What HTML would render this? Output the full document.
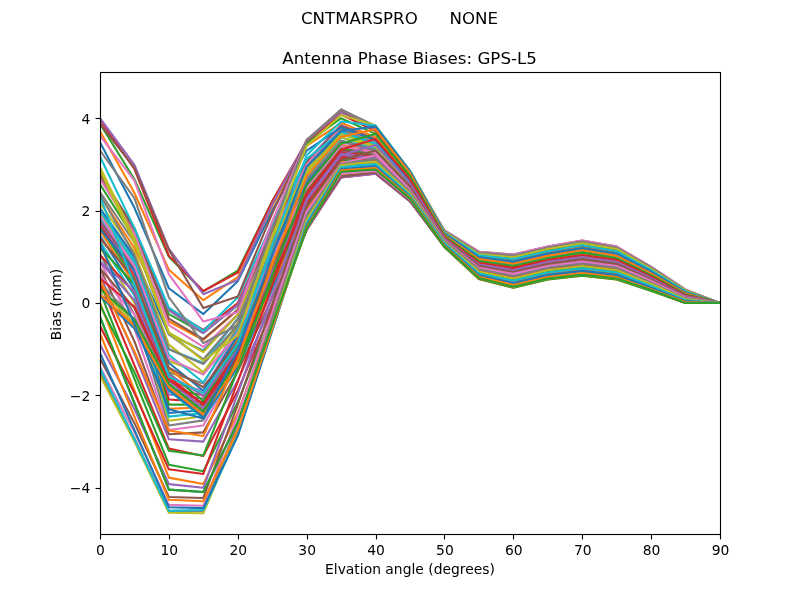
<!DOCTYPE html>
<html lang="en"><head><meta charset="utf-8"><title>Antenna Phase Biases: GPS-L5</title>
<style>html,body{margin:0;padding:0;background:#fff}svg{display:block}text{font-family:"DejaVu Sans","Liberation Sans",sans-serif;fill:#000;white-space:pre}</style></head><body>
<svg width="800" height="600" viewBox="0 0 800 600">
<rect width="800" height="600" fill="#fff"/>
<defs><clipPath id="ax"><rect x="100" y="72" width="620" height="462"/></clipPath></defs>
<g clip-path="url(#ax)" fill="none" stroke-width="2.083" stroke-linejoin="round" stroke-linecap="square">
<polyline stroke="#1f77b4" points="100.00,316.86 134.44,403.25 168.89,489.65 203.33,491.96 237.78,422.20 272.22,325.18 306.67,228.62 341.11,171.79 375.56,169.48 410.00,198.59 444.44,246.64 478.89,278.05 513.33,286.83 547.78,278.51 582.22,274.82 616.67,278.51 651.11,290.06 685.56,303.00 720.00,303.00"/>
<polyline stroke="#ff7f0e" points="100.00,303.00 134.44,390.32 168.89,477.64 203.33,484.10 237.78,412.96 272.22,320.56 306.67,229.08 341.11,174.10 375.56,171.33 410.00,199.97 444.44,247.10 478.89,278.98 513.33,287.75 547.78,279.44 582.22,275.74 616.67,279.44 651.11,290.53 685.56,303.00 720.00,303.00"/>
<polyline stroke="#2ca02c" points="100.00,291.45 134.44,378.77 168.89,464.70 203.33,471.17 237.78,402.33 272.22,315.47 306.67,230.00 341.11,175.95 375.56,172.72 410.00,200.90 444.44,247.10 478.89,278.98 513.33,287.75 547.78,279.44 582.22,275.74 616.67,279.44 651.11,290.99 685.56,303.00 720.00,303.00"/>
<polyline stroke="#d62728" points="100.00,282.67 134.44,365.37 168.89,448.53 203.33,455.92 237.78,390.78 272.22,309.47 306.67,230.00 341.11,177.34 375.56,173.64 410.00,201.36 444.44,246.64 478.89,278.51 513.33,286.83 547.78,278.51 582.22,274.82 616.67,278.51 651.11,290.06 685.56,303.00 720.00,303.00"/>
<polyline stroke="#9467bd" points="100.00,275.28 134.44,353.82 168.89,439.29 203.33,441.60 237.78,380.62 272.22,303.92 306.67,229.08 341.11,177.34 375.56,173.64 410.00,201.36 444.44,246.17 478.89,277.13 513.33,285.44 547.78,277.13 582.22,273.43 616.67,277.13 651.11,289.14 685.56,302.54 720.00,303.00"/>
<polyline stroke="#8c564b" points="100.00,268.35 134.44,341.35 168.89,434.21 203.33,432.36 237.78,371.38 272.22,297.92 306.67,227.23 341.11,176.41 375.56,172.72 410.00,200.90 444.44,245.25 478.89,275.74 513.33,283.60 547.78,275.28 582.22,271.58 616.67,275.28 651.11,287.75 685.56,301.61 720.00,303.00"/>
<polyline stroke="#e377c2" points="100.00,261.42 134.44,328.41 168.89,430.05 203.33,425.43 237.78,363.98 272.22,292.84 306.67,224.92 341.11,173.64 375.56,170.87 410.00,199.51 444.44,244.33 478.89,273.89 513.33,281.29 547.78,273.43 582.22,269.27 616.67,273.43 651.11,286.37 685.56,300.69 720.00,303.00"/>
<polyline stroke="#7f7f7f" points="100.00,254.49 134.44,314.55 168.89,425.43 203.33,420.35 237.78,358.44 272.22,288.68 306.67,222.15 341.11,171.33 375.56,169.02 410.00,198.59 444.44,243.40 478.89,272.05 513.33,279.44 547.78,271.12 582.22,266.50 616.67,271.12 651.11,284.52 685.56,299.77 720.00,303.00"/>
<polyline stroke="#bcbd22" points="100.00,247.56 134.44,303.00 168.89,420.81 203.33,416.19 237.78,353.82 272.22,284.52 306.67,218.92 341.11,169.02 375.56,167.63 410.00,197.66 444.44,242.02 478.89,270.20 513.33,277.13 547.78,268.81 582.22,264.19 616.67,268.81 651.11,283.13 685.56,298.84 720.00,303.00"/>
<polyline stroke="#17becf" points="100.00,241.55 134.44,295.61 168.89,416.65 203.33,412.96 237.78,350.59 272.22,280.82 306.67,215.68 341.11,166.71 375.56,165.79 410.00,196.28 444.44,241.09 478.89,268.81 513.33,274.82 547.78,266.96 582.22,262.34 616.67,266.96 651.11,281.75 685.56,297.92 720.00,303.00"/>
<polyline stroke="#1f77b4" points="100.00,235.55 134.44,289.60 168.89,412.96 203.33,410.18 237.78,347.81 272.22,277.59 306.67,212.45 341.11,164.40 375.56,163.94 410.00,195.35 444.44,240.17 478.89,267.43 513.33,272.97 547.78,265.12 582.22,260.50 616.67,265.12 651.11,280.36 685.56,297.46 720.00,303.00"/>
<polyline stroke="#ff7f0e" points="100.00,230.47 134.44,284.52 168.89,408.80 203.33,407.41 237.78,345.04 272.22,274.82 306.67,209.21 341.11,161.63 375.56,162.09 410.00,193.97 444.44,239.24 478.89,265.58 513.33,271.12 547.78,263.27 582.22,258.19 616.67,263.27 651.11,278.98 685.56,296.53 720.00,303.00"/>
<polyline stroke="#2ca02c" points="100.00,226.77 134.44,279.90 168.89,404.64 203.33,404.64 237.78,342.27 272.22,271.58 306.67,205.52 341.11,158.86 375.56,159.78 410.00,192.58 444.44,238.78 478.89,264.19 513.33,269.27 547.78,261.42 582.22,256.34 616.67,261.42 651.11,277.59 685.56,295.61 720.00,303.00"/>
<polyline stroke="#d62728" points="100.00,224.00 134.44,275.74 168.89,399.56 203.33,401.87 237.78,339.50 272.22,267.43 306.67,200.90 341.11,155.62 375.56,157.47 410.00,191.20 444.44,237.40 478.89,262.34 513.33,267.43 547.78,259.57 582.22,254.03 616.67,259.57 651.11,276.20 685.56,295.15 720.00,303.00"/>
<polyline stroke="#9467bd" points="100.00,221.69 134.44,272.05 168.89,394.48 203.33,398.63 237.78,336.73 272.22,263.73 306.67,196.28 341.11,151.93 375.56,155.16 410.00,189.81 444.44,236.47 478.89,260.50 513.33,265.12 547.78,257.26 582.22,251.72 616.67,257.26 651.11,274.36 685.56,294.22 720.00,303.00"/>
<polyline stroke="#8c564b" points="100.00,219.84 134.44,268.81 168.89,388.47 203.33,395.40 237.78,333.95 272.22,259.57 306.67,191.20 341.11,148.23 375.56,152.85 410.00,187.96 444.44,235.55 478.89,258.65 513.33,262.81 547.78,254.95 582.22,249.41 616.67,254.95 651.11,272.97 685.56,293.30 720.00,303.00"/>
<polyline stroke="#e377c2" points="100.00,217.53 134.44,266.04 168.89,381.54 203.33,390.78 237.78,330.72 272.22,255.41 306.67,186.58 341.11,144.53 375.56,150.54 410.00,186.58 444.44,234.16 478.89,257.26 513.33,260.50 547.78,252.64 582.22,247.10 616.67,252.64 651.11,271.12 685.56,292.37 720.00,303.00"/>
<polyline stroke="#7f7f7f" points="100.00,215.22 134.44,263.73 168.89,372.30 203.33,383.39 237.78,327.02 272.22,250.79 306.67,181.49 341.11,140.84 375.56,148.69 410.00,185.65 444.44,233.24 478.89,255.41 513.33,258.65 547.78,250.79 582.22,244.79 616.67,250.79 651.11,269.74 685.56,291.45 720.00,303.00"/>
<polyline stroke="#bcbd22" points="100.00,212.91 134.44,261.42 168.89,361.21 203.33,373.69 237.78,322.87 272.22,246.64 306.67,177.34 341.11,137.60 375.56,146.84 410.00,184.27 444.44,232.78 478.89,254.03 513.33,257.26 547.78,249.41 582.22,243.40 616.67,249.41 651.11,268.81 685.56,290.99 720.00,303.00"/>
<polyline stroke="#17becf" points="100.00,211.06 134.44,259.57 168.89,349.20 203.33,363.06 237.78,318.71 272.22,242.02 306.67,173.18 341.11,134.37 375.56,145.00 410.00,183.34 444.44,232.31 478.89,253.57 513.33,256.34 547.78,248.48 582.22,242.48 616.67,248.48 651.11,268.35 685.56,290.53 720.00,303.00"/>
<polyline stroke="#1f77b4" points="100.00,208.29 134.44,256.80 168.89,334.42 203.33,350.59 237.78,314.55 272.22,237.86 306.67,169.48 341.11,131.60 375.56,143.61 410.00,182.42 444.44,232.31 478.89,253.57 513.33,256.34 547.78,248.48 582.22,242.48 616.67,248.48 651.11,267.89 685.56,290.53 720.00,303.00"/>
<polyline stroke="#ff7f0e" points="100.00,195.82 134.44,248.02 168.89,321.48 203.33,339.96 237.78,309.93 272.22,233.70 306.67,166.25 341.11,129.29 375.56,142.22 410.00,181.49 444.44,232.78 478.89,254.03 513.33,257.26 547.78,249.41 582.22,243.40 616.67,249.41 651.11,268.81 685.56,290.99 720.00,303.00"/>
<polyline stroke="#2ca02c" points="100.00,184.27 134.44,238.32 168.89,314.09 203.33,333.03 237.78,305.31 272.22,230.00 306.67,163.94 341.11,127.44 375.56,140.38 410.00,180.57 444.44,233.24 478.89,255.41 513.33,258.65 547.78,250.79 582.22,244.79 616.67,250.79 651.11,269.74 685.56,291.45 720.00,303.00"/>
<polyline stroke="#d62728" points="100.00,178.26 134.44,232.31 168.89,309.47 203.33,329.80 237.78,303.00 272.22,227.69 306.67,161.63 341.11,125.59 375.56,139.45 410.00,179.65 444.44,234.16 478.89,256.80 513.33,260.50 547.78,252.64 582.22,246.64 616.67,252.64 651.11,271.12 685.56,291.91 720.00,303.00"/>
<polyline stroke="#9467bd" points="100.00,175.03 134.44,229.08 168.89,310.39 203.33,333.03 237.78,304.85 272.22,228.62 306.67,160.70 341.11,125.13 375.56,138.99 410.00,179.18 444.44,235.09 478.89,258.65 513.33,262.34 547.78,254.49 582.22,248.95 616.67,254.49 651.11,272.51 685.56,292.84 720.00,303.00"/>
<polyline stroke="#8c564b" points="100.00,174.56 134.44,228.16 168.89,318.71 203.33,339.04 237.78,309.47 272.22,231.39 306.67,162.09 341.11,126.05 375.56,139.91 410.00,179.65 444.44,236.01 478.89,260.50 513.33,264.65 547.78,256.80 582.22,251.26 616.67,256.80 651.11,274.36 685.56,293.76 720.00,303.00"/>
<polyline stroke="#e377c2" points="100.00,178.72 134.44,233.70 168.89,325.18 203.33,346.89 237.78,314.55 272.22,235.55 306.67,164.40 341.11,127.44 375.56,141.30 410.00,181.03 444.44,236.93 478.89,261.88 513.33,266.96 547.78,259.11 582.22,253.57 616.67,259.11 651.11,275.74 685.56,294.68 720.00,303.00"/>
<polyline stroke="#7f7f7f" points="100.00,192.12 134.44,242.48 168.89,334.42 203.33,359.36 237.78,319.17 272.22,239.71 306.67,167.63 341.11,129.75 375.56,143.61 410.00,182.42 444.44,237.86 478.89,263.73 513.33,268.81 547.78,260.96 582.22,255.88 616.67,260.96 651.11,277.13 685.56,295.61 720.00,303.00"/>
<polyline stroke="#bcbd22" points="100.00,203.21 134.44,252.18 168.89,344.58 203.33,372.30 237.78,324.71 272.22,244.79 306.67,172.72 341.11,133.45 375.56,145.92 410.00,183.80 444.44,238.78 478.89,265.12 513.33,270.66 547.78,262.81 582.22,257.72 616.67,262.81 651.11,278.51 685.56,296.53 720.00,303.00"/>
<polyline stroke="#17becf" points="100.00,217.53 134.44,261.88 168.89,354.74 203.33,382.46 237.78,330.26 272.22,250.79 306.67,177.80 341.11,137.60 375.56,148.23 410.00,185.19 444.44,239.71 478.89,266.50 513.33,272.51 547.78,264.65 582.22,259.57 616.67,264.65 651.11,279.90 685.56,296.99 720.00,303.00"/>
<polyline stroke="#1f77b4" points="100.00,229.08 134.44,270.66 168.89,363.06 203.33,390.78 237.78,335.34 272.22,255.88 306.67,182.88 341.11,141.30 375.56,150.54 410.00,186.58 444.44,240.63 478.89,267.89 513.33,274.36 547.78,266.04 582.22,261.42 616.67,266.04 651.11,281.29 685.56,297.92 720.00,303.00"/>
<polyline stroke="#ff7f0e" points="100.00,238.78 134.44,277.59 168.89,368.60 203.33,396.32 237.78,340.42 272.22,260.96 306.67,187.50 341.11,145.00 375.56,152.85 410.00,188.42 444.44,241.55 478.89,269.74 513.33,276.20 547.78,268.35 582.22,263.73 616.67,268.35 651.11,282.67 685.56,298.38 720.00,303.00"/>
<polyline stroke="#2ca02c" points="100.00,247.56 134.44,284.52 168.89,373.22 203.33,400.94 237.78,345.50 272.22,266.04 306.67,192.58 341.11,148.69 375.56,155.16 410.00,189.81 444.44,242.48 478.89,271.58 513.33,278.51 547.78,270.20 582.22,266.04 616.67,270.20 651.11,284.06 685.56,299.30 720.00,303.00"/>
<polyline stroke="#d62728" points="100.00,254.95 134.44,292.37 168.89,376.92 203.33,404.64 237.78,349.66 272.22,271.12 306.67,197.20 341.11,151.93 375.56,157.01 410.00,190.73 444.44,243.40 478.89,272.97 513.33,280.82 547.78,272.51 582.22,268.35 616.67,272.51 651.11,285.91 685.56,300.23 720.00,303.00"/>
<polyline stroke="#9467bd" points="100.00,261.88 134.44,300.23 168.89,380.62 203.33,408.34 237.78,353.82 272.22,275.28 306.67,201.36 341.11,155.16 375.56,158.86 410.00,192.12 444.44,244.33 478.89,274.82 513.33,282.67 547.78,274.36 582.22,270.66 616.67,274.36 651.11,287.29 685.56,301.15 720.00,303.00"/>
<polyline stroke="#8c564b" points="100.00,268.35 134.44,308.08 168.89,383.85 203.33,411.57 237.78,357.52 272.22,278.98 306.67,204.59 341.11,157.93 375.56,160.24 410.00,193.04 444.44,245.25 478.89,276.20 513.33,284.52 547.78,276.20 582.22,272.51 616.67,276.20 651.11,288.68 685.56,302.08 720.00,303.00"/>
<polyline stroke="#e377c2" points="100.00,275.28 134.44,314.55 168.89,386.16 203.33,413.88 237.78,361.21 272.22,282.21 306.67,207.37 341.11,160.24 375.56,161.63 410.00,193.51 444.44,245.71 478.89,277.59 513.33,285.91 547.78,277.59 582.22,273.89 616.67,277.59 651.11,289.60 685.56,302.54 720.00,303.00"/>
<polyline stroke="#7f7f7f" points="100.00,282.67 134.44,319.63 168.89,388.47 203.33,416.19 237.78,364.45 272.22,284.98 306.67,209.68 341.11,162.09 375.56,163.01 410.00,194.43 444.44,246.17 478.89,278.05 513.33,286.83 547.78,278.51 582.22,274.82 616.67,278.51 651.11,290.06 685.56,302.54 720.00,303.00"/>
<polyline stroke="#bcbd22" points="100.00,289.14 134.44,323.79 168.89,389.86 203.33,417.58 237.78,366.76 272.22,287.29 306.67,211.99 341.11,163.48 375.56,163.94 410.00,195.35 444.44,246.17 478.89,278.05 513.33,286.83 547.78,278.51 582.22,274.82 616.67,278.51 651.11,290.06 685.56,302.54 720.00,303.00"/>
<polyline stroke="#17becf" points="100.00,293.76 134.44,327.02 168.89,390.78 203.33,418.50 237.78,367.68 272.22,288.68 306.67,212.91 341.11,164.40 375.56,164.40 410.00,195.35 444.44,245.71 478.89,277.13 513.33,285.91 547.78,277.59 582.22,273.89 616.67,277.59 651.11,289.60 685.56,302.54 720.00,303.00"/>
<polyline stroke="#1f77b4" points="100.00,296.07 134.44,328.41 168.89,389.86 203.33,417.11 237.78,366.76 272.22,287.29 306.67,211.99 341.11,163.48 375.56,163.94 410.00,195.35 444.44,244.79 478.89,276.20 513.33,284.52 547.78,276.20 582.22,272.05 616.67,276.20 651.11,288.22 685.56,301.61 720.00,303.00"/>
<polyline stroke="#ff7f0e" points="100.00,294.22 134.44,325.64 168.89,387.08 203.33,414.80 237.78,363.98 272.22,284.52 306.67,209.21 341.11,162.09 375.56,163.01 410.00,194.89 444.44,243.86 478.89,274.36 513.33,282.21 547.78,273.89 582.22,270.20 616.67,273.89 651.11,286.83 685.56,301.15 720.00,303.00"/>
<polyline stroke="#2ca02c" points="100.00,289.14 134.44,319.17 168.89,383.85 203.33,411.57 237.78,360.75 272.22,281.29 306.67,205.98 341.11,159.78 375.56,162.09 410.00,193.97 444.44,242.94 478.89,272.51 513.33,279.90 547.78,272.05 582.22,267.89 616.67,272.05 651.11,285.44 685.56,299.77 720.00,303.00"/>
<polyline stroke="#d62728" points="100.00,278.51 134.44,306.70 168.89,379.69 203.33,404.64 237.78,355.67 272.22,277.13 306.67,202.75 341.11,157.01 375.56,160.70 410.00,193.04 444.44,241.55 478.89,270.66 513.33,277.59 547.78,269.74 582.22,265.12 616.67,269.74 651.11,283.60 685.56,298.84 720.00,303.00"/>
<polyline stroke="#9467bd" points="100.00,261.42 134.44,291.45 168.89,374.61 203.33,395.86 237.78,349.20 272.22,271.12 306.67,198.59 341.11,153.77 375.56,158.39 410.00,191.66 444.44,240.63 478.89,268.81 513.33,275.28 547.78,267.43 582.22,262.81 616.67,267.43 651.11,281.75 685.56,297.92 720.00,303.00"/>
<polyline stroke="#8c564b" points="100.00,238.32 134.44,278.51 168.89,367.68 203.33,387.08 237.78,341.81 272.22,264.65 306.67,193.51 341.11,150.08 375.56,155.62 410.00,189.81 444.44,239.71 478.89,266.96 513.33,273.43 547.78,265.12 582.22,260.50 616.67,265.12 651.11,280.36 685.56,297.46 720.00,303.00"/>
<polyline stroke="#e377c2" points="100.00,215.22 134.44,266.04 168.89,358.44 203.33,374.61 237.78,333.03 272.22,257.26 306.67,187.50 341.11,145.92 375.56,152.85 410.00,187.96 444.44,238.78 478.89,265.58 513.33,271.58 547.78,263.27 582.22,258.65 616.67,263.27 651.11,278.98 685.56,296.53 720.00,303.00"/>
<polyline stroke="#7f7f7f" points="100.00,194.43 134.44,254.95 168.89,349.20 203.33,363.98 237.78,324.71 272.22,248.48 306.67,179.18 341.11,141.76 375.56,150.08 410.00,186.58 444.44,237.86 478.89,263.73 513.33,269.74 547.78,261.42 582.22,256.34 616.67,261.42 651.11,277.59 685.56,295.61 720.00,303.00"/>
<polyline stroke="#bcbd22" points="100.00,169.94 134.44,242.94 168.89,332.57 203.33,351.97 237.78,314.55 272.22,237.86 306.67,169.02 341.11,137.14 375.56,146.84 410.00,184.27 444.44,236.93 478.89,262.34 513.33,267.43 547.78,259.57 582.22,254.49 616.67,259.57 651.11,276.20 685.56,295.15 720.00,303.00"/>
<polyline stroke="#17becf" points="100.00,156.55 134.44,228.16 168.89,307.62 203.33,330.72 237.78,297.46 272.22,223.54 306.67,158.86 341.11,132.06 375.56,143.61 410.00,182.42 444.44,235.55 478.89,260.50 513.33,265.58 547.78,257.72 582.22,252.18 616.67,257.72 651.11,274.82 685.56,294.22 720.00,303.00"/>
<polyline stroke="#1f77b4" points="100.00,142.22 134.44,207.83 168.89,288.22 203.33,314.09 237.78,281.29 272.22,210.60 306.67,150.54 341.11,127.44 375.56,140.38 410.00,180.11 444.44,234.62 478.89,258.65 513.33,263.27 547.78,255.41 582.22,249.87 616.67,255.41 651.11,272.97 685.56,293.30 720.00,303.00"/>
<polyline stroke="#ff7f0e" points="100.00,131.14 134.44,193.04 168.89,269.74 203.33,300.23 237.78,277.13 272.22,205.98 306.67,145.92 341.11,122.82 375.56,137.14 410.00,178.26 444.44,233.70 478.89,256.80 513.33,260.96 547.78,253.10 582.22,247.56 616.67,253.10 651.11,271.58 685.56,292.37 720.00,303.00"/>
<polyline stroke="#2ca02c" points="100.00,123.74 134.44,179.18 168.89,256.80 203.33,291.45 237.78,270.66 272.22,201.36 306.67,143.15 341.11,118.20 375.56,133.91 410.00,175.95 444.44,232.31 478.89,255.41 513.33,258.65 547.78,250.79 582.22,245.25 616.67,250.79 651.11,269.74 685.56,291.45 720.00,303.00"/>
<polyline stroke="#d62728" points="100.00,119.59 134.44,169.02 168.89,255.88 203.33,290.99 237.78,272.51 272.22,201.36 306.67,141.30 341.11,114.50 375.56,131.14 410.00,174.56 444.44,231.39 478.89,253.57 513.33,256.80 547.78,248.95 582.22,242.94 616.67,248.95 651.11,268.35 685.56,290.53 720.00,303.00"/>
<polyline stroke="#9467bd" points="100.00,118.20 134.44,164.86 168.89,248.95 203.33,294.22 237.78,279.90 272.22,204.59 306.67,140.38 341.11,112.19 375.56,129.29 410.00,173.18 444.44,230.93 478.89,252.64 513.33,255.41 547.78,247.56 582.22,241.55 616.67,247.56 651.11,267.43 685.56,290.06 720.00,303.00"/>
<polyline stroke="#8c564b" points="100.00,123.74 134.44,168.10 168.89,249.87 203.33,308.08 237.78,296.53 272.22,213.37 306.67,139.91 341.11,110.35 375.56,127.90 410.00,172.25 444.44,230.47 478.89,251.72 513.33,254.49 547.78,246.64 582.22,240.63 616.67,246.64 651.11,266.96 685.56,289.60 720.00,303.00"/>
<polyline stroke="#e377c2" points="100.00,135.76 134.44,180.57 168.89,274.36 203.33,321.48 237.78,312.24 272.22,221.23 306.67,139.91 341.11,109.42 375.56,126.98 410.00,171.79 444.44,230.47 478.89,251.72 513.33,254.49 547.78,246.64 582.22,240.63 616.67,246.64 651.11,266.96 685.56,289.60 720.00,303.00"/>
<polyline stroke="#7f7f7f" points="100.00,150.54 134.44,198.13 168.89,297.46 203.33,343.19 237.78,325.18 272.22,228.62 306.67,140.38 341.11,109.42 375.56,126.05 410.00,171.33 444.44,230.93 478.89,252.64 513.33,255.41 547.78,247.56 582.22,241.55 616.67,247.56 651.11,267.43 685.56,290.06 720.00,303.00"/>
<polyline stroke="#bcbd22" points="100.00,167.17 134.44,238.32 168.89,332.57 203.33,360.75 237.78,335.34 272.22,236.47 306.67,145.92 341.11,114.97 375.56,125.59 410.00,170.87 444.44,231.85 478.89,254.03 513.33,257.26 547.78,248.95 582.22,243.40 616.67,248.95 651.11,268.81 685.56,290.53 720.00,303.00"/>
<polyline stroke="#17becf" points="100.00,196.74 134.44,284.52 168.89,376.92 203.33,393.09 237.78,343.66 272.22,245.71 306.67,155.16 341.11,121.43 375.56,125.59 410.00,170.87 444.44,232.78 478.89,255.41 513.33,259.11 547.78,251.26 582.22,245.25 616.67,251.26 651.11,270.20 685.56,291.45 720.00,303.00"/>
<polyline stroke="#1f77b4" points="100.00,242.94 134.44,323.79 168.89,409.26 203.33,418.50 237.78,350.59 272.22,255.41 306.67,166.71 341.11,131.14 375.56,126.52 410.00,171.33 444.44,233.70 478.89,257.26 513.33,261.42 547.78,253.57 582.22,248.02 616.67,253.57 651.11,271.58 685.56,292.37 720.00,303.00"/>
<polyline stroke="#ff7f0e" points="100.00,279.90 134.44,351.51 168.89,430.51 203.33,436.06 237.78,359.36 272.22,264.65 306.67,175.95 341.11,136.68 375.56,129.29 410.00,173.18 444.44,235.09 478.89,259.11 513.33,263.73 547.78,255.88 582.22,250.33 616.67,255.88 651.11,273.43 685.56,293.30 720.00,303.00"/>
<polyline stroke="#2ca02c" points="100.00,305.31 134.44,372.30 168.89,450.84 203.33,455.46 237.78,369.99 272.22,275.28 306.67,185.19 341.11,143.61 375.56,133.91 410.00,175.95 444.44,236.01 478.89,260.96 513.33,266.04 547.78,258.19 582.22,252.64 616.67,258.19 651.11,275.28 685.56,294.22 720.00,303.00"/>
<polyline stroke="#d62728" points="100.00,326.10 134.44,393.09 168.89,469.32 203.33,473.94 237.78,381.54 272.22,285.44 306.67,193.04 341.11,149.62 375.56,138.99 410.00,179.18 444.44,237.40 478.89,262.81 513.33,267.89 547.78,260.03 582.22,254.95 616.67,260.03 651.11,276.67 685.56,295.15 720.00,303.00"/>
<polyline stroke="#9467bd" points="100.00,344.58 134.44,409.26 168.89,484.10 203.33,487.80 237.78,393.55 272.22,295.61 306.67,200.44 341.11,155.16 375.56,145.00 410.00,183.34 444.44,238.32 478.89,264.65 513.33,270.20 547.78,261.88 582.22,257.26 616.67,261.88 651.11,278.05 685.56,296.07 720.00,303.00"/>
<polyline stroke="#8c564b" points="100.00,358.44 134.44,423.12 168.89,497.04 203.33,497.96 237.78,404.64 272.22,304.39 306.67,206.44 341.11,160.24 375.56,150.54 410.00,186.58 444.44,239.24 478.89,266.04 513.33,272.05 547.78,263.73 582.22,259.11 616.67,263.73 651.11,279.44 685.56,296.99 720.00,303.00"/>
<polyline stroke="#e377c2" points="100.00,366.76 134.44,432.36 168.89,504.89 203.33,505.82 237.78,415.27 272.22,312.70 306.67,211.52 341.11,163.48 375.56,155.16 410.00,189.81 444.44,240.17 478.89,267.89 513.33,273.89 547.78,266.04 582.22,261.42 616.67,266.04 651.11,280.82 685.56,297.46 720.00,303.00"/>
<polyline stroke="#7f7f7f" points="100.00,372.30 134.44,438.37 168.89,510.90 203.33,510.90 237.78,424.04 272.22,319.63 306.67,216.14 341.11,164.40 375.56,158.86 410.00,191.66 444.44,241.09 478.89,269.27 513.33,276.20 547.78,267.89 582.22,263.73 616.67,267.89 651.11,282.67 685.56,298.38 720.00,303.00"/>
<polyline stroke="#bcbd22" points="100.00,375.53 134.44,441.60 168.89,512.75 203.33,513.21 237.78,431.44 272.22,325.64 306.67,219.84 341.11,165.32 375.56,161.63 410.00,193.51 444.44,242.48 478.89,271.58 513.33,278.51 547.78,270.20 582.22,266.04 616.67,270.20 651.11,284.06 685.56,299.30 720.00,303.00"/>
<polyline stroke="#17becf" points="100.00,368.14 134.44,439.29 168.89,510.90 203.33,509.98 237.78,435.59 272.22,329.33 306.67,223.07 341.11,167.17 375.56,163.94 410.00,195.35 444.44,243.40 478.89,273.43 513.33,280.82 547.78,272.51 582.22,268.35 616.67,272.51 651.11,285.91 685.56,300.23 720.00,303.00"/>
<polyline stroke="#1f77b4" points="100.00,352.90 134.44,430.05 168.89,507.20 203.33,508.13 237.78,435.59 272.22,330.72 306.67,225.38 341.11,169.02 375.56,166.25 410.00,196.74 444.44,244.79 478.89,275.28 513.33,283.13 547.78,274.82 582.22,270.66 616.67,274.82 651.11,287.75 685.56,301.15 720.00,303.00"/>
<polyline stroke="#ff7f0e" points="100.00,333.49 134.44,416.65 168.89,499.81 203.33,501.20 237.78,430.05 272.22,328.41 306.67,227.23 341.11,170.41 375.56,168.10 410.00,197.66 444.44,245.71 478.89,276.67 513.33,284.98 547.78,277.13 582.22,272.97 616.67,277.13 651.11,289.14 685.56,302.08 720.00,303.00"/>
<polyline stroke="#2ca02c" points="100.00,316.86 134.44,403.25 168.89,489.65 203.33,491.96 237.78,422.20 272.22,325.18 306.67,228.62 341.11,171.79 375.56,169.48 410.00,198.59 444.44,246.64 478.89,278.05 513.33,286.83 547.78,278.51 582.22,274.82 616.67,278.51 651.11,290.06 685.56,303.00 720.00,303.00"/>
</g>
<g stroke="#000" stroke-width="1.111" fill="none">
<line x1="100.5" y1="534.5" x2="100.5" y2="539.45"/>
<line x1="169.5" y1="534.5" x2="169.5" y2="539.45"/>
<line x1="238.5" y1="534.5" x2="238.5" y2="539.45"/>
<line x1="307.5" y1="534.5" x2="307.5" y2="539.45"/>
<line x1="376.5" y1="534.5" x2="376.5" y2="539.45"/>
<line x1="444.5" y1="534.5" x2="444.5" y2="539.45"/>
<line x1="513.5" y1="534.5" x2="513.5" y2="539.45"/>
<line x1="582.5" y1="534.5" x2="582.5" y2="539.45"/>
<line x1="651.5" y1="534.5" x2="651.5" y2="539.45"/>
<line x1="720.5" y1="534.5" x2="720.5" y2="539.45"/>
<line x1="100.5" y1="488.5" x2="95.55" y2="488.5"/>
<line x1="100.5" y1="395.5" x2="95.55" y2="395.5"/>
<line x1="100.5" y1="303.5" x2="95.55" y2="303.5"/>
<line x1="100.5" y1="211.5" x2="95.55" y2="211.5"/>
<line x1="100.5" y1="118.5" x2="95.55" y2="118.5"/>
<rect x="100.5" y="72.5" width="620" height="462" stroke-linejoin="miter"/>
</g>
<g font-size="13.89px" text-anchor="middle">
<text x="100.50" y="554.6">0</text>
<text x="169.39" y="554.6">10</text>
<text x="238.28" y="554.6">20</text>
<text x="307.17" y="554.6">30</text>
<text x="376.06" y="554.6">40</text>
<text x="444.94" y="554.6">50</text>
<text x="513.83" y="554.6">60</text>
<text x="582.72" y="554.6">70</text>
<text x="651.61" y="554.6">80</text>
<text x="720.50" y="554.6">90</text>
<text x="410" y="574">Elvation angle (degrees)</text>
<text transform="translate(61,304.5) rotate(-90)">Bias (mm)</text>
</g>
<g font-size="13.89px" text-anchor="end">
<text x="90.3" y="493.10">−4</text>
<text x="90.3" y="400.70">−2</text>
<text x="90.3" y="308.30">0</text>
<text x="90.3" y="215.90">2</text>
<text x="90.3" y="123.50">4</text>
</g>
<g font-size="16.67px" text-anchor="middle">
<text x="409.6" y="64.2">Antenna Phase Biases: GPS-L5</text>
<text x="399.5" y="23.9" xml:space="preserve">CNTMARSPRO      NONE</text>
</g>
</svg></body></html>
